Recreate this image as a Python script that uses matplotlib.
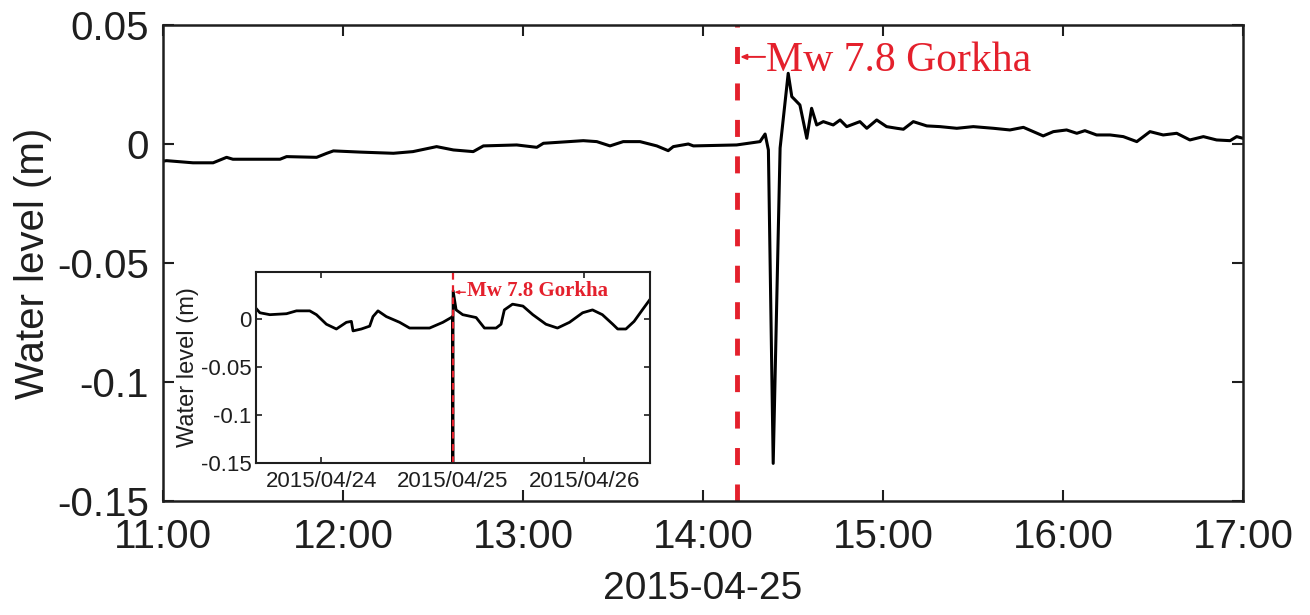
import matplotlib
matplotlib.use("Agg")
import matplotlib.pyplot as plt
import matplotlib.dates as mdates
import pandas as pd

# ---------------- data ----------------
# main panel: minutes after 2015-04-25 11:00 and water level (m)
main_minutes = [0, 1.2, 10, 16.7, 21.2, 23.3, 39, 41.2, 51.2, 54.6, 56.8, 65.7, 72.3,
                76.8, 83.3, 91.2, 96.8, 103.4, 106.8, 117.9, 124.6, 126.8, 140.1,
                144.6, 149, 153.4, 159, 164.6, 168.4, 170.1, 175.1, 176.8, 191.2,
                199, 200.7, 201.8, 203.4, 205.7, 208.4, 209.6, 210.7, 212.3, 214.6,
                216.2, 217.9, 220.1, 223.4, 225.7, 227.9, 232.3, 234.6, 237.9, 241.2,
                244.6, 246.8, 250.1, 254.6, 259, 264.6, 270.1, 276.8, 282.3, 286.8,
                293.4, 296.8, 301.2, 304.6, 307.3, 311.2, 315.7, 320.1, 324.6, 329,
                333.4, 337.9, 342.3, 346.8, 351.2, 355.7, 357.9, 360]
main_level = [-0.0072, -0.0070, -0.0079, -0.0079, -0.0056, -0.0064, -0.0064, -0.0053,
              -0.0056, -0.0039, -0.0029, -0.0034, -0.0037, -0.0039, -0.0032, -0.0011,
              -0.0025, -0.0032, -0.0008, -0.0004, -0.0014, 0.0003, 0.0014, 0.0010,
              -0.0008, 0.0010, 0.0010, -0.0008, -0.0028, -0.0011, 0.0000, -0.0008,
              -0.0004, 0.0010, 0.0042, -0.0025, -0.1342, -0.0017, 0.0297, 0.0199,
              0.0185, 0.0164, 0.0024, 0.0150, 0.0080, 0.0094, 0.0080, 0.0101, 0.0073,
              0.0094, 0.0066, 0.0101, 0.0073, 0.0066, 0.0062, 0.0094, 0.0076, 0.0073,
              0.0066, 0.0073, 0.0066, 0.0059, 0.0070, 0.0034, 0.0052, 0.0059, 0.0045,
              0.0056, 0.0038, 0.0038, 0.0031, 0.0010, 0.0052, 0.0038, 0.0045, 0.0017,
              0.0031, 0.0017, 0.0014, 0.0031, 0.0024]
main_start = "2015-04-25 11:00"
main_end = "2015-04-25 17:00"
event_time = "2015-04-25 14:11:26"
main_yticks = [-0.15, -0.1, -0.05, 0, 0.05]
main_yticklabels = ["-0.15", "-0.1", "-0.05", "0", "0.05"]

# inset: hours after 2015-04-24 00:00 and water level (m)
inset_hours = [-12.0, -11.24, -9.42, -6.38, -4.56, -2.13, -0.91, 0.91, 2.73, 4.56, 5.47,
               5.77, 7.29, 8.81, 9.42, 10.33, 11.85, 14.28, 16.1, 19.75, 22.18, 23.7,
               23.95, 24.0, 24.05, 24.6, 25.8, 28.25, 29.77, 31.9, 32.8, 33.4, 34.9,
               36.8, 38.6, 41.0, 43.1, 45.3, 47.7, 49.5, 51.3, 53.2, 54.1, 55.6, 57.1,
               58.6, 60.0]
inset_level = [0.012, 0.007, 0.005, 0.006, 0.009, 0.009, 0.005, -0.005, -0.010, -0.003,
               -0.002, -0.012, -0.010, -0.007, 0.003, 0.009, 0.003, -0.003, -0.009,
               -0.009, -0.003, 0.002, 0.003, -0.150, 0.030, 0.010, 0.005, 0.002, -0.009,
               -0.009, -0.005, 0.010, 0.016, 0.014, 0.005, -0.005, -0.009, -0.003,
               0.007, 0.010, 0.005, -0.005, -0.010, -0.010, -0.002, 0.010, 0.021]
inset_origin = "2015-04-24 00:00"
inset_event_hour = 24.0
inset_xlim_hours = [-12, 60]
inset_xtick_hours = [0, 24, 48]
inset_xticklabels = ["2015/04/24", "2015/04/25", "2015/04/26"]
inset_yticks = [-0.15, -0.1, -0.05, 0]
inset_yticklabels = ["-0.15", "-0.1", "-0.05", "0"]

label_text = "Mw 7.8 Gorkha"
RED = "#e4202c"
INK = "#1e1e1e"

plt.rcParams['font.family'] = ['Liberation Sans', 'DejaVu Sans']
plt.rcParams['axes.unicode_minus'] = False

main_t = pd.Timestamp(main_start) + pd.to_timedelta(main_minutes, unit="min")
ev = pd.Timestamp(event_time)

fig = plt.figure(figsize=(13.1, 6.15), dpi=100)
ax = fig.add_axes([163 / 1310, 1 - 501 / 615, 1080 / 1310, 476 / 615])
ax.plot(main_t, main_level, color="black", lw=2.2, solid_joinstyle="round")
ax.axvline(ev, color=RED, lw=3.5, dashes=(3.5, 4.0))
ax.set_xlim(pd.Timestamp(main_start), pd.Timestamp(main_end))
ax.set_ylim(-0.15, 0.05)
ax.set_yticks(main_yticks, main_yticklabels)
ax.xaxis.set_major_locator(mdates.HourLocator())
ax.xaxis.set_major_formatter(mdates.DateFormatter("%H:%M"))
ax.tick_params(direction="in", length=8, width=1.5, top=True, right=True,
               labelsize=29, colors=INK, labelcolor=INK)
ax.tick_params(axis="x", pad=12)
ax.tick_params(axis="y", pad=10)
for s in ax.spines.values():
    s.set_linewidth(1.8)
    s.set_color(INK)
ax.set_xlabel("2015-04-25", fontsize=28, color=INK, labelpad=11)
ax.set_ylabel("Water level (m)", fontsize=29, color=INK, labelpad=4)
# arrow + label
ax.annotate("", xy=(ev, 0.0366), xytext=(20, 0), textcoords="offset points",
            arrowprops=dict(arrowstyle="-|>,head_length=0.35,head_width=0.15",
                            color=RED, lw=1.4, shrinkA=0, shrinkB=2))
ax.annotate(label_text, xy=(ev, 0.0305), xytext=(21, 0),
            textcoords="offset points", color=RED, fontsize=30,
            family=['Liberation Serif', 'DejaVu Serif'], ha="left", va="baseline")

# inset
io = pd.Timestamp(inset_origin)
inset_t = io + pd.to_timedelta(inset_hours, unit="h")
ins = fig.add_axes([255.7 / 1310, 1 - 462.7 / 615, 394.3 / 1310, 191 / 615])
ins.set_facecolor("white")
ins.plot(inset_t, inset_level, color="black", lw=2.0)
iev = io + pd.Timedelta(hours=inset_event_hour)
ins.axvline(iev, color=RED, lw=1.6, dashes=(3, 2.5))
ins.set_xlim(io + pd.Timedelta(hours=inset_xlim_hours[0]), io + pd.Timedelta(hours=inset_xlim_hours[1]))
ins.set_ylim(-0.15, 0.05)
ins.set_xticks([io + pd.Timedelta(hours=h) for h in inset_xtick_hours], inset_xticklabels)
ins.set_yticks(inset_yticks, inset_yticklabels)
ins.tick_params(direction="in", length=4, width=1.2, top=True, right=True,
                labelsize=16, colors=INK, labelcolor=INK)
ins.tick_params(axis="x", pad=6)
ins.tick_params(axis="y", pad=3)
for s in ins.spines.values():
    s.set_linewidth(1.5)
    s.set_color(INK)
ins.set_ylabel("Water level (m)", fontsize=17, color=INK, labelpad=1)
ins.annotate("", xy=(iev, 0.0285), xytext=(9, 0), textcoords="offset points",
             arrowprops=dict(arrowstyle="-|>,head_length=0.25,head_width=0.1",
                             color=RED, lw=1.0, shrinkA=0, shrinkB=1))
ins.annotate(label_text, xy=(iev, 0.0245), xytext=(10, 0),
             textcoords="offset points", color=RED, fontsize=15, fontweight="bold",
             family=['Liberation Serif', 'DejaVu Serif'], ha="left", va="baseline")

fig.savefig("out.png", dpi=100)
